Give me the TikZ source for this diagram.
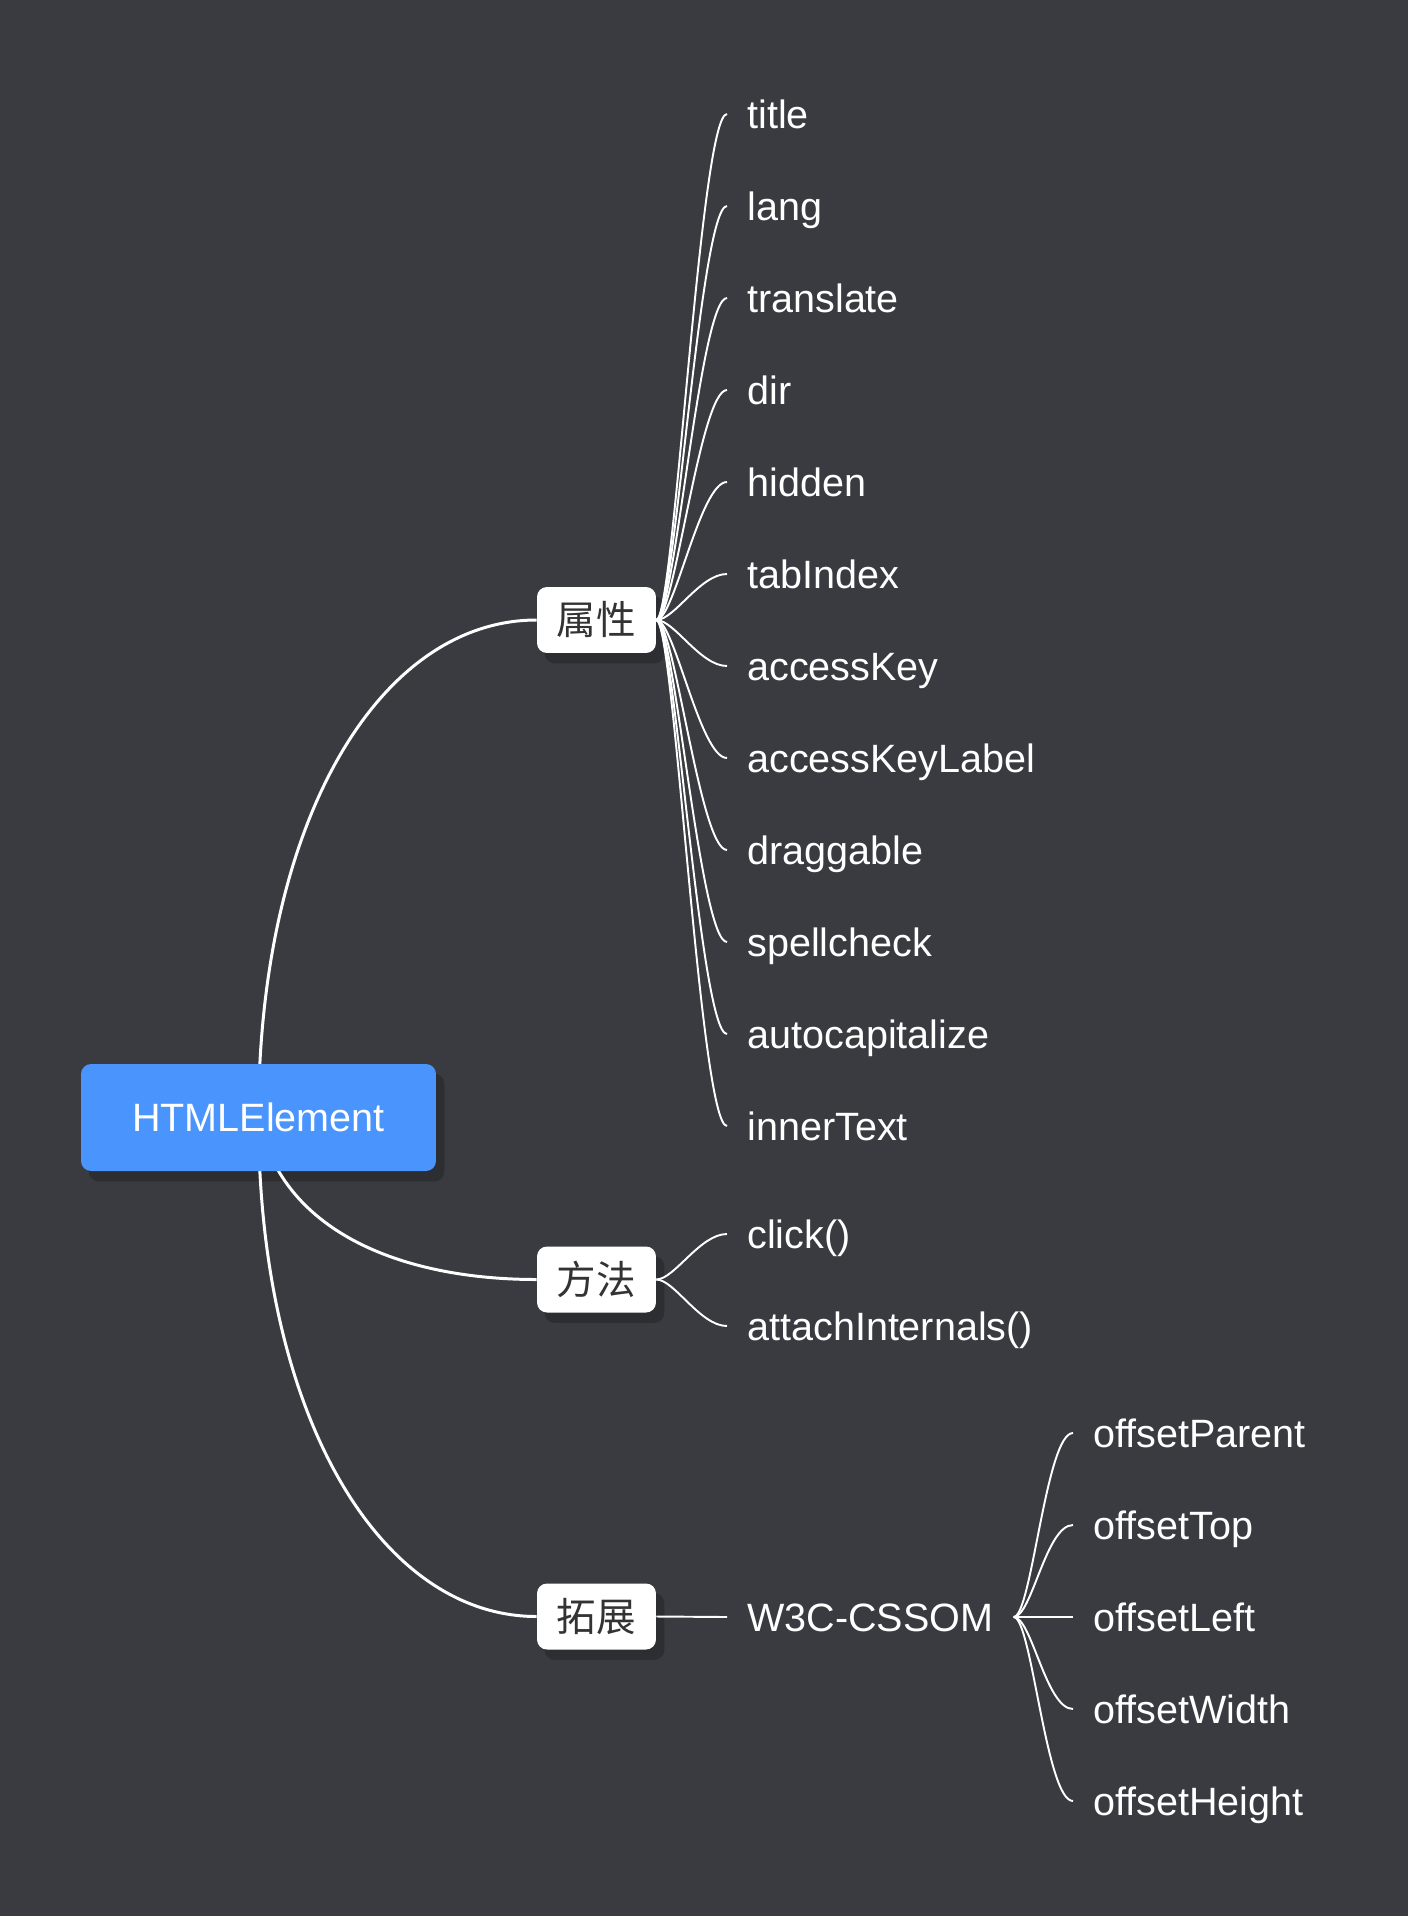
\documentclass[tikz,border=0pt]{standalone}
\usepackage{fontspec}
\setmainfont{Liberation Sans}
\newfontfamily\cjk{Noto Sans CJK SC}
\usetikzlibrary{backgrounds}

\definecolor{canvas}{HTML}{393B40}
\definecolor{boxshade}{HTML}{2D2E32}
\definecolor{rootblue}{HTML}{4A95FD}
\definecolor{boxtext}{HTML}{333333}

\newcommand{\mapfont}{\fontsize{22.5}{27}\selectfont}

\tikzset{
    rootbox/.style={fill=rootblue, text=white, rounded corners=0.2cm, minimum width=7.1cm,
        minimum height=2.14cm, inner sep=0pt, font=\mapfont, text height=16.1pt, text depth=0pt},
    subbox/.style={fill=white, text=boxtext, rounded corners=0.2cm, minimum width=2.38cm,
        minimum height=1.32cm, inner sep=0pt, font=\cjk\mapfont, text height=17pt, text depth=0pt},
    leaf/.style={anchor=west, text=white, inner xsep=0.4cm, inner ysep=0pt, font=\mapfont,
        text height=16.1pt, text depth=0pt},
    mainline/.style={draw=white, line width=1.7pt},
    leafline/.style={draw=white, line width=1.1pt},
}

\begin{document}
\begin{tikzpicture}[x=0.02cm,y=-0.02cm]
    \useasboundingbox (0,0) rectangle (1408,1916);

    % root and branches
    \node[rootbox] (html) at (258.5,1117.5) {HTMLElement};
    \node[subbox] (shuxing) at (596.5,620) {属性};
    \node[subbox] (fangfa) at (596.5,1279.5) {方法};
    \node[subbox] (tuozhan) at (596.5,1616.5) {拓展};

    % attributes
    \node[leaf] (title) at (727,114) {title};
    \node[leaf] (lang) at (727,206) {lang};
    \node[leaf] (translate) at (727,298) {translate};
    \node[leaf] (dir) at (727,390) {dir};
    \node[leaf] (hidden) at (727,482) {hidden};
    \node[leaf] (tabindex) at (727,574) {tabIndex};
    \node[leaf] (accesskey) at (727,666) {accessKey};
    \node[leaf] (accesskeylabel) at (727,758) {accessKeyLabel};
    \node[leaf] (draggable) at (727,850) {draggable};
    \node[leaf] (spellcheck) at (727,942) {spellcheck};
    \node[leaf] (autocap) at (727,1034) {autocapitalize};
    \node[leaf] (innertext) at (727,1126) {innerText};

    % methods
    \node[leaf] (click) at (727,1234) {click()};
    \node[leaf] (attach) at (727,1326) {attachInternals()};

    % extensions
    \node[leaf] (w3c) at (727,1617) {W3C-CSSOM};
    \node[leaf] (oparent) at (1073,1433) {offsetParent};
    \node[leaf] (otop) at (1073,1525) {offsetTop};
    \node[leaf] (oleft) at (1073,1617) {offsetLeft};
    \node[leaf] (owidth) at (1073,1709) {offsetWidth};
    \node[leaf] (oheight) at (1073,1801) {offsetHeight};

    \begin{scope}[on background layer]
        \fill[canvas] (0,0) rectangle (1408,1916);

        \fill[boxshade, rounded corners=0.2cm] ([shift={(8,10)}]html.south west) rectangle ([shift={(8,10)}]html.north east);
        \fill[boxshade, rounded corners=0.2cm] ([shift={(8,10)}]shuxing.south west) rectangle ([shift={(8,10)}]shuxing.north east);
        \fill[boxshade, rounded corners=0.2cm] ([shift={(8,10)}]fangfa.south west) rectangle ([shift={(8,10)}]fangfa.north east);
        \fill[boxshade, rounded corners=0.2cm] ([shift={(8,10)}]tuozhan.south west) rectangle ([shift={(8,10)}]tuozhan.north east);

        \draw[mainline] (html.center) .. controls +(0,-297) and +(-157,0) .. (shuxing.west);
        \draw[mainline] (html.center) .. controls +(22,113) and +(-137,0) .. (fangfa.west);
        \draw[mainline] (html.center) .. controls +(0,297) and +(-157,0) .. (tuozhan.west);

        \draw[leafline] (shuxing.east) .. controls +(18,0) and +(-27,0) .. (title.west);
        \draw[leafline] (shuxing.east) .. controls +(18,0) and +(-27,0) .. (lang.west);
        \draw[leafline] (shuxing.east) .. controls +(18,0) and +(-27,0) .. (translate.west);
        \draw[leafline] (shuxing.east) .. controls +(18,0) and +(-27,0) .. (dir.west);
        \draw[leafline] (shuxing.east) .. controls +(18,0) and +(-27,0) .. (hidden.west);
        \draw[leafline] (shuxing.east) .. controls +(18,0) and +(-27,0) .. (tabindex.west);
        \draw[leafline] (shuxing.east) .. controls +(18,0) and +(-27,0) .. (accesskey.west);
        \draw[leafline] (shuxing.east) .. controls +(18,0) and +(-27,0) .. (accesskeylabel.west);
        \draw[leafline] (shuxing.east) .. controls +(18,0) and +(-27,0) .. (draggable.west);
        \draw[leafline] (shuxing.east) .. controls +(18,0) and +(-27,0) .. (spellcheck.west);
        \draw[leafline] (shuxing.east) .. controls +(18,0) and +(-27,0) .. (autocap.west);
        \draw[leafline] (shuxing.east) .. controls +(18,0) and +(-27,0) .. (innertext.west);

        \draw[leafline] (fangfa.east) .. controls +(18,0) and +(-27,0) .. (click.west);
        \draw[leafline] (fangfa.east) .. controls +(18,0) and +(-27,0) .. (attach.west);

        \draw[leafline] (tuozhan.east) -- (w3c.west);
        \draw[leafline] (w3c.east) .. controls +(18,0) and +(-27,0) .. (oparent.west);
        \draw[leafline] (w3c.east) .. controls +(18,0) and +(-27,0) .. (otop.west);
        \draw[leafline] (w3c.east) -- (oleft.west);
        \draw[leafline] (w3c.east) .. controls +(18,0) and +(-27,0) .. (owidth.west);
        \draw[leafline] (w3c.east) .. controls +(18,0) and +(-27,0) .. (oheight.west);
    \end{scope}
\end{tikzpicture}
\end{document}
